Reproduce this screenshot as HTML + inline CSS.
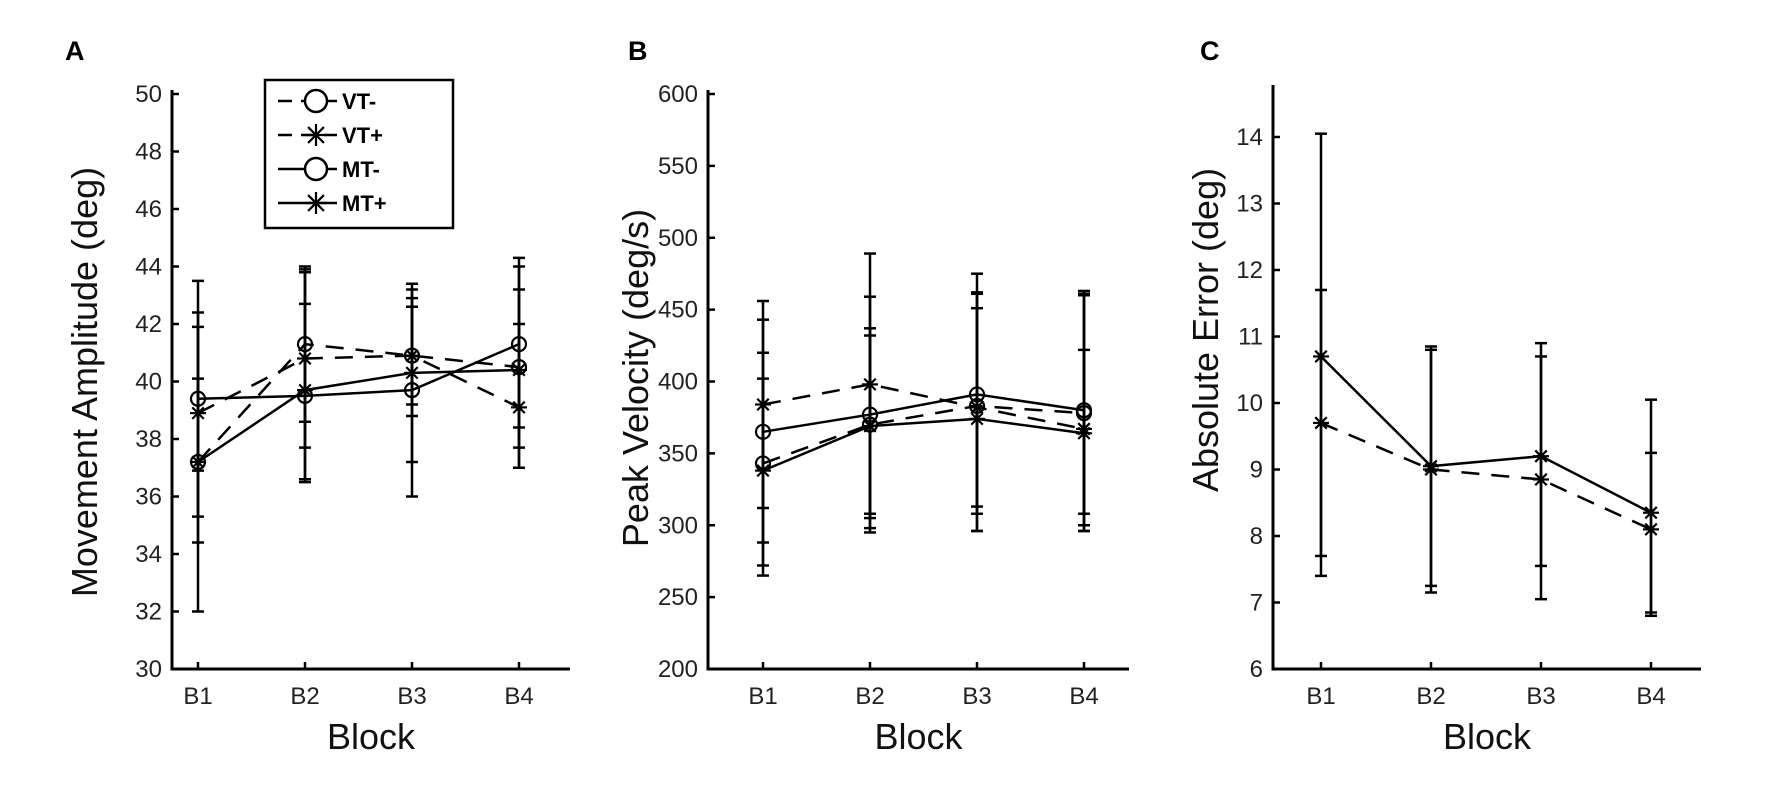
<!DOCTYPE html>
<html><head><meta charset="utf-8">
<style>
html,body{margin:0;padding:0;background:#fff;}
svg{display:block;font-family:"Liberation Sans",Arial,sans-serif;}
</style></head>
<body>
<svg id="fig" width="1772" height="812" viewBox="0 0 1772 812">
<text x="65" y="60" font-size="27" font-weight="bold">A</text>
<text x="628" y="60" font-size="27" font-weight="bold">B</text>
<text x="1200" y="60" font-size="27" font-weight="bold">C</text>
</svg>
<script>
const categories = ["B1","B2","B3","B4"];
// Panel A: Movement Amplitude
const aTicks = [30,32,34,36,38,40,42,44,46,48,50];
const aVTm = [37.2,41.3,40.9,40.5];
const aVTp = [38.9,40.8,40.9,39.1];
const aMTm = [39.4,39.5,39.7,41.3];
const aMTp = [37.2,39.7,40.3,40.4];
const aVTmHi = [43.5,44.0,43.4,44.3], aVTmLo = [32.0,36.5,36.0,37.0];
const aVTpHi = [42.4,43.8,43.2,42.0], aVTpLo = [35.3,37.7,38.8,37.7];
const aMTmHi = [41.9,42.7,42.6,43.2], aMTmLo = [36.9,38.6,37.2,38.4];
const aMTpHi = [40.1,43.9,42.9,44.0], aMTpLo = [34.4,36.6,39.2,37.0];
// Panel B: Peak Velocity
const bTicks = [200,250,300,350,400,450,500,550,600];
const bVTm = [343,370,383,378];
const bVTp = [384,398,382,367];
const bMTm = [365,377,391,380];
const bMTp = [338,369,374,364];
const bVTmHi = [456,489,475,463], bVTmLo = [265,295,296,296];
const bVTpHi = [443,459,461,461], bVTpLo = [272,298,308,300];
const bMTmHi = [420,437,451,422], bMTmLo = [288,305,313,308];
const bMTpHi = [402,432,462,460], bMTpLo = [312,308,296,296];
// Panel C: Absolute Error
const cTicks = [6,7,8,9,10,11,12,13,14];
const cDashed = [9.7,9.0,8.85,8.1];
const cSolid = [10.7,9.05,9.2,8.35];
const cDashedHi = [11.7,10.8,10.7,9.25], cDashedLo = [7.7,7.25,7.55,6.85];
const cSolidHi = [14.05,10.85,10.9,10.05], cSolidLo = [7.4,7.15,7.05,6.8];

const NS = "http://www.w3.org/2000/svg";
const svg = document.getElementById("fig");
function mk(tag, attrs, parent){
  const e = document.createElementNS(NS, tag);
  for (const k in attrs) e.setAttribute(k, attrs[k]);
  (parent||svg).appendChild(e);
  return e;
}
function star(g, x, y, s){
  const p = [[x-s,y,x+s,y],[x,y-s,x,y+s],[x-s*0.72,y-s*0.72,x+s*0.72,y+s*0.72],[x-s*0.72,y+s*0.72,x+s*0.72,y-s*0.72]];
  p.forEach(q=>mk("line",{x1:q[0],y1:q[1],x2:q[2],y2:q[3],stroke:"#000","stroke-width":2.2},g));
}
function panel(P){
  const g = mk("g",{});
  
  
  const yS = v => P.bottom - (v - P.min) / (P.max - P.min) * (P.bottom - P.topTick);
  const xS = i => P.spine + P.off + i * P.step;
  const axEnd = xS(categories.length - 1) + P.endPad;
  const ax = mk("path",{d:`M${P.spine} ${P.axTop} L${P.spine} ${P.bottom} L${axEnd} ${P.bottom}`,fill:"none",stroke:"#000","stroke-width":3},g);
  
  
  P.ticks.forEach(t=>{
    const y = yS(t);
    mk("line",{x1:P.spine,y1:y,x2:P.spine+7,y2:y,stroke:"#000","stroke-width":2.5},g);
    const tx = mk("text",{x:P.spine-10,y:y+8,"font-size":24,"text-anchor":"end",fill:"#222"},g);
    tx.textContent = t;
    
    
  });
  categories.forEach((c,i)=>{
    const x = xS(i);
    mk("line",{x1:x,y1:P.bottom,x2:x,y2:P.bottom-7,stroke:"#000","stroke-width":2.5},g);
    const tx = mk("text",{x:x,y:P.bottom+35,"font-size":24,"text-anchor":"middle",fill:"#222"},g);
    tx.textContent = c;
    
    
  });
  const xl = mk("text",{x:(P.spine+axEnd)/2,y:P.bottom+80,"font-size":36,"text-anchor":"middle",fill:"#111"},g);
  xl.textContent = "Block";
  
  
  const yl = mk("text",{x:0,y:0,"font-size":36,"text-anchor":"middle",fill:"#111",transform:`translate(${P.ylx},${P.yly}) rotate(-90)`},g);
  yl.textContent = P.ylabel;
  
  
  P.series.forEach(s=>{
    const sg = mk("g",{},g);
    
    
    s.hi.forEach((h,i)=>{
      const x = xS(i), y1 = yS(h), y2 = yS(s.lo[i]);
      mk("line",{x1:x,y1:y1,x2:x,y2:y2,stroke:"#000","stroke-width":2.5},sg);
      mk("line",{x1:x-6,y1:y1,x2:x+6,y2:y1,stroke:"#000","stroke-width":2.5},sg);
      mk("line",{x1:x-6,y1:y2,x2:x+6,y2:y2,stroke:"#000","stroke-width":2.5},sg);
    });
    const pts = s.vals.map((v,i)=>xS(i)+","+yS(v)).join(" ");
    const pl = mk("polyline",{points:pts,fill:"none",stroke:"#000","stroke-width":2.5,"stroke-dasharray":s.dash?"18,12":"none"},sg);
    
    
    s.vals.forEach((v,i)=>{
      const x = xS(i), y = yS(v);
      if (s.marker === "o") {
        const c = mk("circle",{cx:x,cy:y,r:7,fill:"none",stroke:"#000","stroke-width":2.2},sg);
        
        
      } else star(sg, x, y, 8);
    });
  });
}
panel({name:"panel-a-movement-amplitude",spine:172,off:26,endPad:51,topTick:94,axTop:90,bottom:669,min:30,max:50,step:107,ticks:aTicks,
  ylabel:"Movement Amplitude (deg)",ylx:97,yly:382,
  series:[
    {key:"vt-minus",vals:aVTm,hi:aVTmHi,lo:aVTmLo,dash:true,marker:"o"},
    {key:"vt-plus",vals:aVTp,hi:aVTpHi,lo:aVTpLo,dash:true,marker:"*"},
    {key:"mt-minus",vals:aMTm,hi:aMTmHi,lo:aMTmLo,dash:false,marker:"o"},
    {key:"mt-plus",vals:aMTp,hi:aMTpHi,lo:aMTpLo,dash:false,marker:"*"}]});
panel({name:"panel-b-peak-velocity",spine:708,off:55,endPad:45,topTick:94,axTop:90,bottom:669,min:200,max:600,step:107,ticks:bTicks,
  ylabel:"Peak Velocity (deg/s)",ylx:648,yly:378,
  series:[
    {key:"vt-minus",vals:bVTm,hi:bVTmHi,lo:bVTmLo,dash:true,marker:"o"},
    {key:"vt-plus",vals:bVTp,hi:bVTpHi,lo:bVTpLo,dash:true,marker:"*"},
    {key:"mt-minus",vals:bMTm,hi:bMTmHi,lo:bMTmLo,dash:false,marker:"o"},
    {key:"mt-plus",vals:bMTp,hi:bMTpHi,lo:bMTpLo,dash:false,marker:"*"}]});
panel({name:"panel-c-absolute-error",spine:1273,off:48,endPad:50,topTick:137,axTop:85,bottom:669,min:6,max:14,step:110,ticks:cTicks,
  ylabel:"Absolute Error (deg)",ylx:1218,yly:330,
  series:[
    {key:"dashed",vals:cDashed,hi:cDashedHi,lo:cDashedLo,dash:true,marker:"*"},
    {key:"solid",vals:cSolid,hi:cSolidHi,lo:cSolidLo,dash:false,marker:"*"}]});

// Legend (panel A)
const lg = mk("g",{});


mk("rect",{x:265,y:80,width:188,height:148,fill:"#fff",stroke:"#000","stroke-width":2.5},lg);
const legNames = ["VT-","VT+","MT-","MT+"];
const legDash = [true,true,false,false];
const legMark = ["o","*","o","*"];
legNames.forEach((n,i)=>{
  const y = 101 + i*34;
  const e = mk("g",{},lg);
  
  
  mk("line",{x1:278,y1:y,x2:337,y2:y,stroke:"#000","stroke-width":2.5,"stroke-dasharray":legDash[i]?"14,9":"none"},e);
  if (legMark[i]==="o") mk("circle",{cx:316,cy:y,r:11,fill:"#fff",stroke:"#000","stroke-width":2.5},e);
  else star(e,316,y,11);
  const t = mk("text",{x:342,y:y+8,"font-size":22,"font-weight":"bold"},e);
  t.textContent = n;
});
</script>
</body></html>
